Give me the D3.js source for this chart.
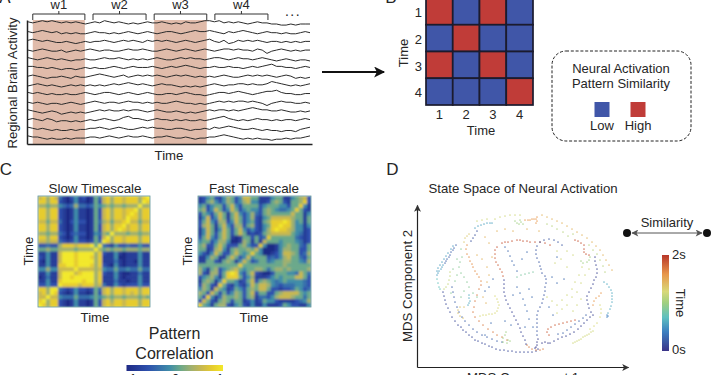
<!DOCTYPE html>
<html>
<head>
<meta charset="utf-8">
<script src="https://cdn.jsdelivr.net/npm/d3@7"></script>
<style>
  html, body { margin: 0; background: #fff; overflow: hidden; }
  text { font-family: "Liberation Sans", Arial, sans-serif; fill: #262626; }
  .domain { stroke: #222; }
  .tick line { display: none; }
</style>
</head>
<body>
<div id="wrapper"></div>
<script>
//1. Data
// A: regional signals, one list per region, offsets from that region's baseline
const regionSignals = [
  [2,1,2,3,2,3,2,1,2,1,2,1,0,1,2,1,3,2,1,2,1,0,1,0,1,2,1,1,2,1,0,1,0,2,1,1,2,3,3,2,3,1,2,1,2,1,0,1,2,1,1,0,0,-1,-1,0,-1,0,0,0],
  [1,0,1,2,1,0,1,-1,0,-1,0,-1,-1,0,1,0,0,-1,0,-1,0,1,0,-1,0,1,0,-1,0,1,1,0,-1,0,1,2,1,1,2,1,0,-1,1,0,1,2,1,0,-1,0,1,0,0,-1,0,-1,-1,0,1,0],
  [1,2,1,0,1,0,-1,-1,0,-1,-2,-1,0,-1,0,0,1,0,-1,0,1,0,1,0,-1,1,0,1,0,1,0,-1,0,1,0,-1,0,1,2,0,-1,1,-2,-1,1,0,1,0,1,0,-1,0,0,-1,0,-1,0,-1,0,0],
  [0,-1,0,1,0,-1,-1,0,-2,-1,0,-1,0,1,0,-1,0,0,-1,-1,0,1,0,0,1,0,-1,-1,0,1,0,-1,0,1,0,-1,0,1,0,-1,0,1,1,0,1,0,0,-1,1,0,-3,-1,0,1,0,-1,0,-1,0,0],
  [1,0,-1,0,1,0,-1,0,-1,-2,-1,-1,0,-1,-1,0,1,0,0,1,0,-1,0,-1,0,-1,0,1,0,-1,-1,0,1,0,1,0,0,-1,0,1,1,0,-1,0,1,0,0,-1,0,1,0,-1,-2,-1,0,-1,-2,-1,-1,-2],
  [1,1,0,0,-1,0,-1,-2,-1,-1,-2,-1,0,-1,0,-1,-1,0,1,0,-1,0,1,0,0,0,1,0,-1,0,1,0,1,2,1,0,-1,0,0,1,0,0,1,0,0,-1,0,1,0,1,2,3,1,1,0,0,-1,0,1,0],
  [0,1,0,-1,-2,-1,-1,0,-1,-2,0,-1,-1,0,1,2,1,0,-1,0,1,-1,0,1,0,1,0,1,0,-1,0,1,0,1,0,-1,0,-1,0,-1,0,1,0,-1,-1,0,1,0,1,0,1,0,-1,0,1,0,-2,-1,-2,-1],
  [-1,0,1,0,-1,0,-1,-2,-1,0,-1,0,-1,0,-1,0,-1,0,1,0,1,2,1,0,1,0,-1,0,1,0,0,-1,-2,-1,-2,-1,-2,-1,0,1,0,-1,0,0,1,1,0,1,0,0,1,3,2,1,0,-1,0,-1,0,1],
  [1,0,1,0,-1,0,-1,-1,0,-1,-1,0,1,0,-1,0,1,1,0,-1,0,1,0,-1,0,1,0,-1,-1,0,0,-1,0,1,0,-1,-1,-2,-1,0,1,1,0,1,2,1,0,-1,0,1,2,2,3,1,0,0,-1,-1,0,0],
  [0,-1,0,-1,-2,-1,-1,-2,-1,0,-1,-2,-1,0,1,0,-1,0,0,-1,0,1,0,0,-1,0,-1,0,-1,-1,0,1,0,-1,-1,-2,-1,-2,-1,0,1,0,1,0,1,1,0,1,0,-1,-3,-1,0,1,0,0,-1,-1,0,-1],
  [1,0,-1,-2,-1,0,-1,-3,-2,-1,-2,-1,-2,-1,0,1,0,1,0,0,1,0,1,1,0,-1,0,1,0,-1,-1,0,-1,-2,-1,-2,-1,0,1,0,1,1,0,1,0,1,2,3,2,1,1,0,0,1,0,-1,-1,0,-1,0],
  [0,1,0,-1,1,0,-2,-1,-1,-2,-1,-2,-1,0,-1,0,1,0,-1,0,2,3,1,1,0,-1,0,1,0,0,-1,0,-1,0,-1,-1,0,-1,0,1,2,3,1,0,-1,0,-1,0,1,0,0,-1,0,-1,0,0,-1,0,1,0],
  [1,0,-1,0,-1,-2,-1,-2,-2,-1,-2,-1,-1,0,0,1,0,-1,0,1,0,-1,-1,0,1,0,1,0,0,-1,-1,0,0,-1,-2,-1,-1,0,-1,1,0,1,2,1,0,-1,-1,0,-1,-2,-1,-2,-2,-3,-2,-2,-3,-1,0,1],
  [1,0,0,-1,-2,-1,-2,-2,-1,-2,-1,-1,-1,0,0,-1,0,1,0,-1,0,1,0,0,1,0,-1,0,0,1,0,-1,-1,0,-1,-2,-1,-1,0,0,1,2,1,0,-1,-2,-1,-2,-1,-2,-2,-3,-2,-2,-1,-2,-1,-1,0,1]
];
const windowLabels = ['w1', 'w2', 'w3', 'w4'];
const windowStarts = [1, 13.6, 26.4, 39.1];
const windowEnds = [11.9, 24.7, 37.4, 50.2];
const shadedWindows = ['w1', 'w3'];

// B: schematic similarity, rows then columns
const timeWindows = [1, 2, 3, 4];
const similarityMatrix = [
  [1, 0, 1, 0],
  [0, 1, 0, 0],
  [1, 0, 1, 0],
  [0, 0, 0, 1]
];

// C: pattern correlation levels 0-9, one digit per cell, rows as seen top to bottom
const slowRows = [
  '78687 31024120153 786887888689',
  '88688 21014110152 786887888698',
  '66566 43236332354 565665666966',
  '88688 21014110152 786887889688',
  '88688 21014110152 786887898688',
  '88688 21014110152 786887988688',
  '77577 31024220153 675778977577',
  '88688 21014110152 786889788688',
  '88688 21014110152 786898788688',
  '66566 32023220143 659666566566',
  '88688 21014110152 796887888688',
  '77677 32124221253 986887888688',
  '22322 68887888959 321422322422',
  '55655 66665666696 565665666566',
  '11411 79998999968 211410111411',
  '21411 79998999868 111400111411',
  '10411 79998999968 111310110411',
  '11411 88998999868 210410111411',
  '44644 77779777767 433533433533',
  '11411 79997899968 211410011311',
  '01311 79989999968 111410111411',
  '11411 89999989968 111311011411',
  '22422 98888788867 311421222422',
  '88699 32124221253 786887888688',
  '78698 21014110152 786887878688',
  '77977 43335333454 565665666565',
  '89688 21014110152 786887888688',
  '98688 21014110152 787887888688'
];
const fastRows = [
  '12452146524775 51114551145672',
  '12564246524674 41125652155682',
  '45245525742555 52455544255841',
  '56247524752454 42565433458521',
  '25425751574246 32565555575514',
  '14724751575246 21457777765515',
  '25742662475245 21568889864515',
  '26751574266256 21458898864414',
  '14751475257424 21468988764412',
  '14752575257512 12567777754312',
  '25742575101552 52385555553212',
  '45524664001651 51755545554312',
  '56225752225642 28400145655325',
  '55126741565565 74000146655225',
  '42147522575458 54001247765236',
  '11465115752474 55523246755325',
  '11552156514752 35534556655436',
  '55555555558555 55555556555555',
  '64156245675455 66535665655556',
  '62166258984257 21002555443753',
  '24564158885246 11124545557752',
  '15651485541257 25654345444432',
  '26521852142147 57764323334432',
  '46517541254256 57752212235423',
  '65275252465257 25522567777545',
  '52841365565256 13324677765535',
  '27521565255124 12544211112346',
  '85415662145214 11411125422114'
];
const correlationLevels = [0, 2, 4, 5, 6, 7, 8, 9];
const correlationColors = ['#1f2a85', '#2d50ad', '#3f8ca8', '#6aa88a', '#9fb070', '#c8b850', '#e6cc2e', '#f2e82a'];
const correlationTicks = [-1, 0, 1];

// D: state space trajectories, [component 1, component 2]
const leftStreak = [[39,122],[37,119],[36,117],[34,115],[33,112],[32,110],[30,108],[29,106],[28,104]];
const leftStreakLower = [[26,102],[25,100],[24,98],[22,96],[21,94],[20,92],[36,121],[34,118],[31,114],[29,111],[27,108],[25,105],[23,102],[21,99],[20,96]];
const leftTeal = [[20,88],[21,84],[22,80],[23,78]];
const leftYellow = [[33,95],[33,91],[32,87],[31,83],[29,80],[27,78]];
const ringBottomLeft = [[26,75],[27,71],[28,67],[29,63],[31,59],[33,55],[35,50],[38,46],[41,42],[44,40],[46,37],[49,35],[52,32],[55,30],[58,27],[61,26],[65,24],[68,23],[72,21],[75,20],[79,18],[83,17],[87,17],[91,16],[95,16],[99,15],[103,15],[107,15],[111,15],[115,15],[119,16]];
const ringInner = [[35,80],[36,75],[37,70],[38,65],[40,60],[42,55],[45,50],[48,46],[52,42],[56,38],[60,35],[65,32],[70,30],[75,28],[80,26],[85,25]];
const orangeTrace = [[50,122],[49,118],[50,113],[52,110],[53,106],[55,103],[56,100],[58,96],[60,93],[62,90],[64,86]];
const yellowHook = [[47,125],[48,129],[50,131],[52,133]];
const pinkDescent = [[64,82],[62,78],[60,72],[58,66],[57,60],[56,55],[58,50],[62,46],[66,42],[71,38],[76,35],[80,32],[85,30],[90,27]];
const bottomOrange = [[110,22],[112,20],[115,18],[119,17],[123,17],[126,18]];
const topRedArc = [[78,117],[80,120],[85,124],[88,125],[91,125],[95,126],[100,127],[103,127],[106,126],[110,126],[113,125],[118,125],[123,125],[128,124],[133,122]];
const redDescent = [[78,113],[78,109],[79,105],[81,102],[83,98],[85,95],[86,91]];
const purpleDescent = [[87,87],[87,83],[87,79],[87,75],[88,71],[89,67],[91,63],[93,59],[95,55],[97,51],[99,47],[101,43],[103,39],[104,35],[106,31],[108,27],[109,23]];
const blueBranch = [[88,120],[91,116],[93,111],[95,106],[97,102],[100,96]];
const centerBlue = [[145,122],[141,125],[137,127],[132,128],[127,127],[123,125],[120,121],[119,117],[119,113],[120,109],[122,105],[123,101],[124,98],[125,94],[128,91],[129,88],[129,84],[128,80],[128,76],[127,72],[126,68],[125,64],[123,60],[121,56],[120,52],[120,48],[120,44],[120,40],[120,36],[120,32]];
const centerDark = [[121,28],[120,25],[120,22],[119,20],[121,18],[118,19],[125,24],[128,25],[131,24]];
const rightNavy = [[178,110],[178,106],[179,102],[180,98],[180,94],[179,90],[177,87],[176,83],[174,79],[172,75],[170,71],[170,67],[171,63],[172,59],[174,55],[176,52],[173,50],[170,47],[167,44],[164,41],[161,38],[157,35],[153,33],[149,31],[145,30],[141,28],[137,26],[133,24]];
const rightBlue = [[169,52],[166,49],[162,46],[158,43],[154,40],[150,37],[146,34],[141,33]];
const lowerRed = [[158,47],[154,46],[150,45],[146,44],[142,43],[138,42],[134,40],[131,38],[130,35],[132,32]];
const rightOrange = [[184,74],[182,71],[179,69],[177,66],[176,62]];
const rightYellow = [[183,62],[184,58],[184,54],[183,50],[180,44],[177,41],[173,38]];
const cyanArc = [[187,85],[190,83],[192,80],[194,77],[195,74],[195,71],[195,68],[195,65],[194,61],[193,58],[191,54]];
const cyanTip = [[190,52],[190,50],[191,51]];
const redCoil = [[158,127],[161,126],[164,124],[167,122],[167,118],[167,115],[169,113],[172,112]];
const greenCoil = [[173,110],[172,107],[170,105],[166,104],[164,106]];
const yellowStreak = [[156,24],[158,25],[160,26],[162,27],[164,28],[166,30],[168,31],[170,32],[172,33],[174,35],[176,36]];
const yellowBend = [[63,51],[66,52],[69,52],[72,53],[75,53],[78,54],[80,56],[81,59],[82,62],[81,65],[80,68],[78,71]];
const topOrange = [[108,147],[111,147],[113,147],[115,148],[117,148],[119,148],[120,146],[119,144],[120,150]];
const topGreen = [[98,146],[100,144],[102,143],[104,145],[106,143],[103,147]];
const topTeal = [[58,139],[61,141],[64,142],[67,143],[70,144],[73,144],[75,144]];
const topNavy = [[60,136],[58,132],[56,129],[54,126]];
const smallLoop = [[47,60],[43,60],[41,57],[41,54],[43,51],[46,49]];
const greenLoop = [[86,29],[88,32],[91,27],[86,25],[90,24],[93,26],[89,35]];
const tealTick = [[52,72],[52,69],[53,66],[52,64],[51,62]];
const paleCenter = [[100,90],[104,92],[108,93],[112,94],[116,95]];
const outerUpperRight = [[125,152],[130,150],[135,148],[140,146],[145,144],[150,141],[155,138],[160,135],[165,132],[170,129],[175,125],[179,121],[183,117],[186,112],[189,107],[192,102],[195,97]];
const innerUpperRight = [[130,143],[135,141],[140,138],[146,135],[151,131],[156,133],[172,122],[176,117],[180,113],[183,107],[186,101],[188,95]];
const topArc = [[78,148],[83,150],[88,151],[93,152],[98,152],[103,152],[65,147],[60,146],[70,148]];
const upperLeftFaint = [[60,112],[65,108],[70,100],[72,92],[70,85],[66,70],[69,64],[75,110],[72,124],[68,130],[80,136],[88,138],[96,136],[110,138],[122,136]];
const leftFaint = [[45,110],[43,105],[42,100],[44,94],[47,90],[50,85],[52,80],[56,74],[60,70],[40,92],[38,86],[36,98],[40,108],[44,118],[34,74],[44,70],[47,76]];
const rightFaint = [[165,100],[162,92],[158,85],[155,78],[150,72],[145,67],[140,62],[135,66],[130,70],[160,75],[155,70],[150,62],[145,58],[140,54],[150,100],[144,108],[156,112],[164,84],[168,92],[172,98],[160,62],[164,68],[156,56],[138,104],[150,116],[140,116]];
const middleFaint = [[100,80],[103,74],[106,68],[108,62],[110,56],[112,78],[115,70],[135,90],[140,84],[147,88],[105,108],[110,115],[140,110],[68,76],[72,80],[76,88],[96,72],[112,48],[116,40],[108,40],[136,52],[132,60],[94,42],[88,46],[74,44],[68,32]];

const stateSegments = [
  [0.12, leftStreak], [0.27, leftStreakLower], [0.36, leftTeal], [0.58, leftYellow],
  [0.06, ringBottomLeft], [0.12, ringInner], [0.82, orangeTrace], [0.66, yellowHook],
  [0.86, pinkDescent], [0.85, bottomOrange], [0.94, topRedArc], [0.92, redDescent],
  [0.05, purpleDescent], [0.14, blueBranch], [0.09, centerBlue], [0.02, centerDark],
  [0.04, rightNavy], [0.13, rightBlue], [0.92, lowerRed], [0.8, rightOrange],
  [0.62, rightYellow], [0.3, cyanArc], [0.2, cyanTip], [0.94, redCoil], [0.5, greenCoil],
  [0.6, yellowStreak], [0.62, yellowBend], [0.8, topOrange], [0.5, topGreen],
  [0.28, topTeal], [0.08, topNavy], [0.68, smallLoop], [0.5, greenLoop], [0.3, tealTick],
  [0.42, paleCenter], [0.72, outerUpperRight], [0.55, innerUpperRight], [0.6, topArc],
  [0.72, upperLeftFaint], [0.45, leftFaint], [0.6, rightFaint], [0.15, middleFaint]
];
const timeStops = [0, 0.2, 0.35, 0.5, 0.62, 0.8, 1];
const timeColors = ['#3b3488', '#3c7fc0', '#5fc0c0', '#9fcf80', '#d8d878', '#e8964a', '#b8362a'];

//2. Canvas
const wrapper = d3.select('#wrapper')
  .append('svg')
  .attr('width', 711)
  .attr('height', 375)
  .style('display', 'block');
const defs = wrapper.append('defs');

function addBlur(id, amount) {
  defs.append('filter').attr('id', id)
    .attr('x', '-5%').attr('y', '-5%').attr('width', '110%').attr('height', '110%')
    .append('feGaussianBlur').attr('stdDeviation', amount);
}
addBlur('blurCells', 0.9);
addBlur('blurFine', 0.3);

function label(x, y, text, size, opts = {}) {
  const node = wrapper.append('text')
    .attr('x', x).attr('y', y)
    .attr('text-anchor', opts.anchor || 'middle')
    .style('font-size', size + 'px')
    .text(text);
  if (opts.rotate) node.attr('transform', `rotate(${opts.rotate},${x},${y})`);
  return node;
}

function addArrowMarker(id, color, w, h) {
  defs.append('marker').attr('id', id)
    .attr('viewBox', '0 0 10 10').attr('refX', 9).attr('refY', 5)
    .attr('markerUnits', 'userSpaceOnUse')
    .attr('markerWidth', w).attr('markerHeight', h)
    .attr('orient', 'auto-start-reverse')
    .append('path').attr('d', 'M0,0L10,5L0,10L2.5,5Z').attr('fill', color);
}
addArrowMarker('arrowBig', '#111', 14, 11);
addArrowMarker('arrowSmall', '#333', 8, 7);
addArrowMarker('arrowGray', '#555', 8, 7);

function addGradient(id, colors, stops, x2, y2) {
  defs.append('linearGradient').attr('id', id)
    .attr('x1', 0).attr('y1', y2 ? 1 : 0).attr('x2', x2).attr('y2', 0)
    .selectAll('stop')
    .data(colors)
    .enter()
    .append('stop')
    .attr('stop-color', d => d)
    .attr('offset', (d, i) => stops[i]);
}

//3. Panel A
const sampleScale = d3.scaleLinear().domain([0, 59]).range([28, 310]);
const regionScale = d3.scalePoint().domain(d3.range(regionSignals.length)).range([24, 137]);
const activityScale = d3.scaleLinear().domain([-4, 4]).range([4.4, -4.4]);

wrapper.selectAll('.shade')
  .data(windowLabels.filter(d => shadedWindows.includes(d)))
  .enter()
  .append('rect')
  .attr('class', 'shade')
  .attr('x', d => sampleScale(windowStarts[windowLabels.indexOf(d)]))
  .attr('width', d => sampleScale(windowEnds[windowLabels.indexOf(d)]) - sampleScale(windowStarts[windowLabels.indexOf(d)]))
  .attr('y', 20)
  .attr('height', 124)
  .attr('fill', '#e0bbaa');

const traceLine = d3.line()
  .x((d, i) => sampleScale(i))
  .y(d => activityScale(d));

wrapper.append('g').attr('filter', 'url(#blurFine)')
  .selectAll('path')
  .data(regionSignals)
  .enter()
  .append('path')
  .attr('transform', (d, i) => `translate(0,${regionScale(i)})`)
  .attr('d', traceLine)
  .attr('fill', 'none')
  .attr('stroke', '#2b2b2b')
  .attr('stroke-width', 1);

wrapper.append('g').attr('transform', 'translate(27,0)')
  .call(d3.axisLeft(d3.scaleLinear().domain([0, 1]).range([144, 20])).tickValues([]).tickSizeOuter(0))
  .select('.domain').attr('stroke-width', 1.5);
wrapper.append('g').attr('transform', 'translate(0,144)')
  .call(d3.axisBottom(d3.scaleLinear().domain([0, 1]).range([27, 312])).tickValues([]).tickSizeOuter(0))
  .select('.domain').attr('stroke-width', 1.5);

const brackets = wrapper.append('g').selectAll('g')
  .data(windowLabels)
  .enter()
  .append('g');
brackets.append('path')
  .attr('d', (d, i) => {
    const x0 = sampleScale(windowStarts[i]), x1 = sampleScale(windowEnds[i]);
    const mid = (x0 + x1) / 2;
    return `M${x0},20V14H${x1}V20M${mid},14V11`;
  })
  .attr('fill', 'none')
  .attr('stroke', '#333')
  .attr('stroke-width', 1);
brackets.append('text')
  .attr('x', (d, i) => (sampleScale(windowStarts[i]) + sampleScale(windowEnds[i])) / 2)
  .attr('y', 9)
  .attr('text-anchor', 'middle')
  .style('font-size', '13px')
  .text(d => d);
label(293, 16, '...', 14).style('letter-spacing', '1.5px');

label(17, 83, 'Regional Brain Activity', 13.2, { rotate: -90 });
label(169, 160, 'Time', 13.2);
label(5, 3, 'A', 17);

wrapper.append('line')
  .attr('x1', 322).attr('x2', 384).attr('y1', 72).attr('y2', 72)
  .attr('stroke', '#111').attr('stroke-width', 2.2)
  .attr('marker-end', 'url(#arrowBig)');

//4. Panel B
label(391, 3, 'B', 17);
const simX = d3.scaleBand().domain(timeWindows).range([426, 533]);
const simY = d3.scaleBand().domain(timeWindows).range([-2, 105]);
const simColor = d3.scaleOrdinal().domain([0, 1]).range(['#4056a8', '#c03c38']);

wrapper.append('g')
  .selectAll('g')
  .data(similarityMatrix)
  .enter()
  .append('g')
  .attr('transform', (d, i) => `translate(0,${simY(timeWindows[i])})`)
  .selectAll('rect')
  .data(d => d)
  .enter()
  .append('rect')
  .attr('x', (d, i) => simX(timeWindows[i]))
  .attr('width', simX.bandwidth())
  .attr('height', simY.bandwidth())
  .attr('fill', d => simColor(d))
  .attr('stroke', '#1b1b2e')
  .attr('stroke-width', 1.7);

const simAxisY = wrapper.append('g').attr('transform', 'translate(422,1.5)')
  .call(d3.axisLeft(simY).tickSize(0).tickPadding(0));
const simAxisX = wrapper.append('g').attr('transform', 'translate(0,108.5)')
  .call(d3.axisBottom(simX).tickSize(0).tickPadding(1));
[simAxisY, simAxisX].forEach(axis => {
  axis.select('.domain').remove();
  axis.selectAll('text').style('font-size', '13px');
});
label(481, 134.5, 'Time', 13);
label(408, 53, 'Time', 13, { rotate: -90 });

wrapper.append('rect')
  .attr('x', 552).attr('y', 51).attr('width', 139).attr('height', 90)
  .attr('rx', 14)
  .attr('fill', 'none').attr('stroke', '#222').attr('stroke-width', 1)
  .attr('stroke-dasharray', '3 1.8');
label(621, 72.5, 'Neural Activation', 13);
label(621, 88, 'Pattern Similarity', 13);
const simKey = d3.scaleOrdinal().domain(['Low', 'High']).range([602, 638]);
wrapper.selectAll('.key')
  .data(simKey.domain())
  .enter()
  .append('rect')
  .attr('class', 'key')
  .attr('x', d => simKey(d) - 7.5)
  .attr('y', 102).attr('width', 15).attr('height', 15)
  .attr('fill', (d, i) => simColor(i));
simKey.domain().forEach(d => label(simKey(d), 130, d, 13));

//5. Panel C
label(6, 175, 'C', 17);
const correlationColor = d3.scaleLinear().domain(correlationLevels).range(correlationColors);

function drawHeatmap(rows, x0, x1, y0, y1) {
  const cells = rows.map(r => r.replace(/ /g, '').split('').map(Number));
  const band = d3.range(cells.length);
  const x = d3.scaleBand().domain(band).range([x0, x1]);
  const y = d3.scaleBand().domain(band).range([y0, y1]);
  const clipId = 'clip' + x0;
  defs.append('clipPath').attr('id', clipId)
    .append('rect').attr('x', x0).attr('y', y0).attr('width', x1 - x0).attr('height', y1 - y0);
  wrapper.append('g').attr('clip-path', `url(#${clipId})`)
    .append('g').attr('filter', 'url(#blurCells)')
    .selectAll('g')
    .data(cells)
    .enter()
    .append('g')
    .attr('transform', (d, i) => `translate(0,${y(i)})`)
    .selectAll('rect')
    .data(d => d)
    .enter()
    .append('rect')
    .attr('x', (d, i) => x(i))
    .attr('width', x.bandwidth() + 0.5)
    .attr('height', y.bandwidth() + 0.5)
    .attr('fill', d => correlationColor(d));
  wrapper.append('rect')
    .attr('x', x0).attr('y', y0).attr('width', x1 - x0).attr('height', y1 - y0)
    .attr('fill', 'none').attr('stroke', '#5f939a').attr('stroke-width', 0.8);
}
drawHeatmap(slowRows, 38, 150, 196, 307);
drawHeatmap(fastRows, 198, 311, 196, 307);

label(95, 193, 'Slow Timescale', 13.4);
label(254, 193, 'Fast Timescale', 13.4);
label(95, 322, 'Time', 13.2);
label(254, 322, 'Time', 13.2);
label(33, 251, 'Time', 13.2, { rotate: -90 });
label(192, 251, 'Time', 13.2, { rotate: -90 });
label(174.5, 339, 'Pattern', 16);
label(174.5, 358.5, 'Correlation', 16);

const correlationStops = correlationLevels.map(d => d / 9);
addGradient('correlationBar', correlationColors, correlationStops, 1, 0);
wrapper.append('rect')
  .attr('x', 126.5).attr('y', 365).attr('width', 96.5).attr('height', 6)
  .attr('fill', 'url(#correlationBar)');
const correlationScale = d3.scaleLinear().domain([-1, 1]).range([131, 220]);
wrapper.selectAll('.corrTick')
  .data(correlationTicks)
  .enter()
  .append('text')
  .attr('class', 'corrTick')
  .attr('x', d => correlationScale(d))
  .attr('y', 383)
  .attr('text-anchor', 'middle')
  .style('font-size', '13px')
  .text(d => d);

//6. Panel D
label(392.5, 175, 'D', 17);
label(523, 193, 'State Space of Neural Activation', 13.2);

const mdsX = d3.scaleLinear().domain([0, 211]).range([417, 628]);
const mdsY = d3.scaleLinear().domain([0, 162]).range([367, 205]);
const timeColor = d3.scaleLinear().domain(timeStops).range(timeColors);

wrapper.append('g').attr('filter', 'url(#blurFine)')
  .selectAll('g')
  .data(stateSegments)
  .enter()
  .append('g')
  .attr('fill', d => timeColor(d[0]))
  .selectAll('circle')
  .data(d => d[1])
  .enter()
  .append('circle')
  .attr('cx', d => mdsX(d[0]))
  .attr('cy', d => mdsY(d[1]))
  .attr('r', 0.85)
  .attr('opacity', 0.75);

wrapper.append('g').attr('transform', 'translate(417,0)')
  .call(d3.axisLeft(mdsY).tickValues([]).tickSizeOuter(0))
  .select('.domain').attr('stroke-width', 1.2).attr('marker-end', 'url(#arrowSmall)');
wrapper.append('g').attr('transform', 'translate(0,367)')
  .call(d3.axisBottom(mdsX).tickValues([]).tickSizeOuter(0))
  .select('.domain').attr('stroke-width', 1.2).attr('marker-end', 'url(#arrowSmall)');
label(412, 286, 'MDS Component 2', 13.2, { rotate: -90 });
label(523, 382, 'MDS Component 1', 13.2);

const similarityEnds = [627, 707];
wrapper.selectAll('.simDot')
  .data(similarityEnds)
  .enter()
  .append('circle')
  .attr('class', 'simDot')
  .attr('cx', d => d).attr('cy', 233).attr('r', 4)
  .attr('fill', '#111');
wrapper.append('line')
  .attr('x1', similarityEnds[0] + 5).attr('x2', similarityEnds[1] - 5)
  .attr('y1', 233).attr('y2', 233)
  .attr('stroke', '#555').attr('stroke-width', 1)
  .attr('marker-start', 'url(#arrowGray)')
  .attr('marker-end', 'url(#arrowGray)');
label(667, 227, 'Similarity', 13);

addGradient('timeBar', timeColors, timeStops, 0, 1);
wrapper.append('rect')
  .attr('x', 662).attr('y', 255).attr('width', 7).attr('height', 96)
  .attr('fill', 'url(#timeBar)');
label(672, 259, '2s', 13, { anchor: 'start' });
label(672, 354, '0s', 13, { anchor: 'start' });
label(676, 303, 'Time', 13, { rotate: 90 });
</script>
</body>
</html>
